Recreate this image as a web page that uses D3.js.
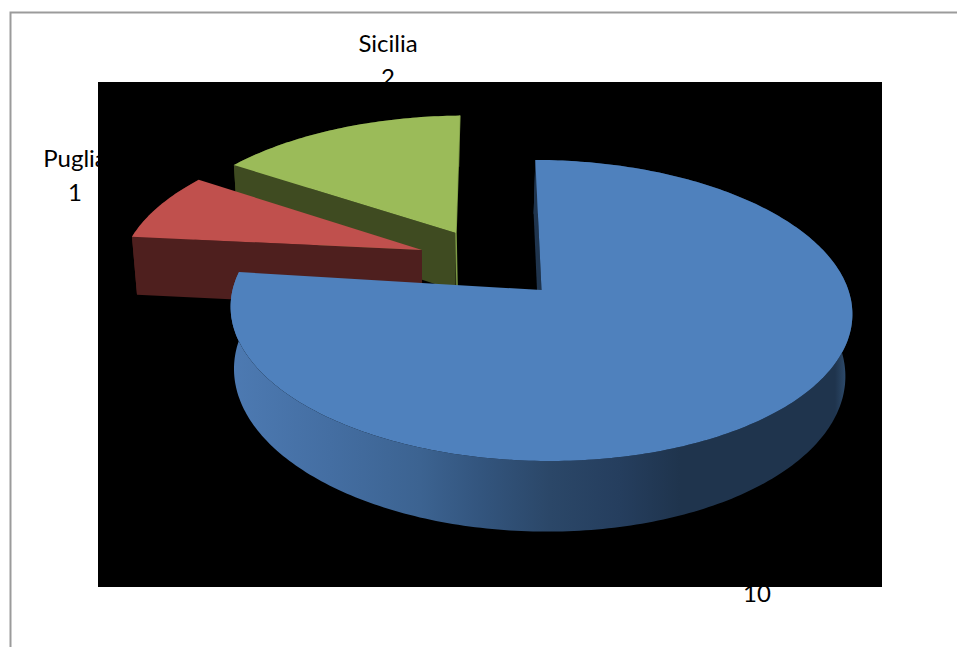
<!DOCTYPE html>
<html>
<head>
<meta charset="utf-8">
<script src="https://cdn.jsdelivr.net/npm/d3@7/dist/d3.min.js"></script>
<style>
html,body{margin:0;padding:0;background:#fff;overflow:hidden}
svg{display:block}
text{font-family:Lato,"Noto Sans",sans-serif;font-size:24px;fill:#000;text-anchor:middle}
</style>
</head>
<body>
<svg id="chart" width="957" height="647"></svg>
<script>
// Data (the name of the large slice is hidden in the reference)
const categories = ["", "Puglia", "Sicilia"];
const values = [10, 1, 2];
const topColors = ["#4f81bd", "#c0504d", "#9bbb59"];
const wallColors = ["#1f344d", "#4e1f1e", "#3f4b21"];
const edgeColors = [null, null, "#7d9b45"];
// Explosion offset of every slice, in pie radii, on the pie's plane
const explodeX = [0, -0.403, -0.293];
const explodeY = [0, 0.281, 0.407];
// Camera tilt seen on each slice
const tilt = [0.012, 0, 0];
// Label placement
const labelX = [757, 75, 388];
const labelY = [602, 167, 52];
const lineGap = 34;

const W = 957, H = 647;
const perspective = 0.136, wallHeight = 61, wallShrink = 0.0167, vanishX = 433;
const startDeg = -1.3;
const tiltCenterX = 541.5;

const svg = d3.select("#chart");

// Scales: unit pie plane to pixels
const xScale = d3.scaleLinear().domain([-1, 1]).range([541.5 - 308, 541.5 + 308]);
const yScale = d3.scaleLinear().domain([-1, 1]).range([290 + 147.7, 290 - 147.7]);

const project = (X, Y, k) => {
  const den = 1 + perspective * Y;
  const x = xScale(X / den);
  return { x, y: yScale(Y / den) + k * (x - tiltCenterX), den };
};
const topPt = (X, Y, k) => { const p = project(X, Y, k); return [p.x, p.y]; };
const botPt = (X, Y, k) => {
  const p = project(X, Y, k);
  return [p.x - (p.x - vanishX) * wallShrink, p.y + wallHeight / p.den];
};

const pieGen = d3.pie().sort(null).value(d => d)
  .startAngle(startDeg * Math.PI / 180)
  .endAngle((startDeg + 360) * Math.PI / 180);
const slices = pieGen(values);
const line = d3.line();

function arcSamples(s, i) {
  const n = Math.max(8, Math.ceil((s.endAngle - s.startAngle) * 60));
  return d3.range(n + 1).map(k => {
    const a = s.startAngle + (s.endAngle - s.startAngle) * k / n;
    return [explodeX[i] + Math.sin(a), explodeY[i] + Math.cos(a)];
  });
}

// Frame
svg.append("rect").attr("width", W).attr("height", H).attr("fill", "#fff");
svg.append("path").attr("fill", "none").attr("stroke", "#9b9b9b").attr("stroke-width", 2)
  .attr("d", line([[W, 12.5], [10.5, 12.5], [10.5, H]]));

// Labels sit under the black plot area, which cuts them off
const labelG = svg.append("g");
categories.forEach((c, i) => {
  const t = labelG.append("text").attr("x", labelX[i]).attr("y", labelY[i]);
  if (c) {
    t.text(c);
    labelG.append("text").attr("x", labelX[i]).attr("y", labelY[i] + lineGap).text(values[i]);
  } else {
    t.text(values[i]);
  }
});

// Plot area
svg.append("rect").attr("x", 98).attr("y", 82).attr("width", 784).attr("height", 505).attr("fill", "#000");

// Gradient for the large slice's wall
const gradStops = [[231,"#4d7ab2"],[330,"#446ea2"],[420,"#3c6391"],[480,"#33557e"],[550,"#2b4768"],[620,"#253e5e"],[680,"#1f344d"],[835,"#1f344d"],[853,"#37597f"]];
const grad = svg.append("defs").append("linearGradient").attr("id", "wall0")
  .attr("gradientUnits", "userSpaceOnUse").attr("x1", 231).attr("x2", 853).attr("y1", 0).attr("y2", 0);
gradStops.forEach(s => grad.append("stop").attr("offset", (s[0] - 231) / (853 - 231)).attr("stop-color", s[1]));

// Painter's order: back slices first, the large slice last
[2, 1, 0].forEach(i => {
  const s = slices[i];
  const k = tilt[i];
  const g = svg.append("g");
  const samples = arcSamples(s, i);
  const apex = [explodeX[i], explodeY[i]];
  const first = samples[0], last = samples[samples.length - 1];
  const wall = i === 0 ? "url(#wall0)" : wallColors[i];
  // Outer wall
  g.append("path").attr("fill", wall)
    .attr("d", line([...samples.map(p => topPt(p[0], p[1], k)), ...samples.slice().reverse().map(p => botPt(p[0], p[1], k))]) + "Z");
  // Start cut wall
  g.append("path").attr("fill", wallColors[i])
    .attr("d", line([topPt(first[0], first[1], k), topPt(apex[0], apex[1], k), botPt(apex[0], apex[1], k), botPt(first[0], first[1], k)]) + "Z");
  // Lit edge of the cut
  if (edgeColors[i]) {
    g.append("path").attr("fill", "none").attr("stroke", edgeColors[i]).attr("stroke-width", 1.5)
      .attr("d", line([topPt(last[0], last[1], k), topPt(apex[0], apex[1], k), botPt(apex[0], apex[1], k).map((v, j) => j === 0 ? v + 1.5 : v)]));
  }
  // Top face
  g.append("path").attr("fill", topColors[i])
    .attr("d", line([topPt(apex[0], apex[1], k), ...samples.map(p => topPt(p[0], p[1], k))]) + "Z");
});
</script>
</body>
</html>
